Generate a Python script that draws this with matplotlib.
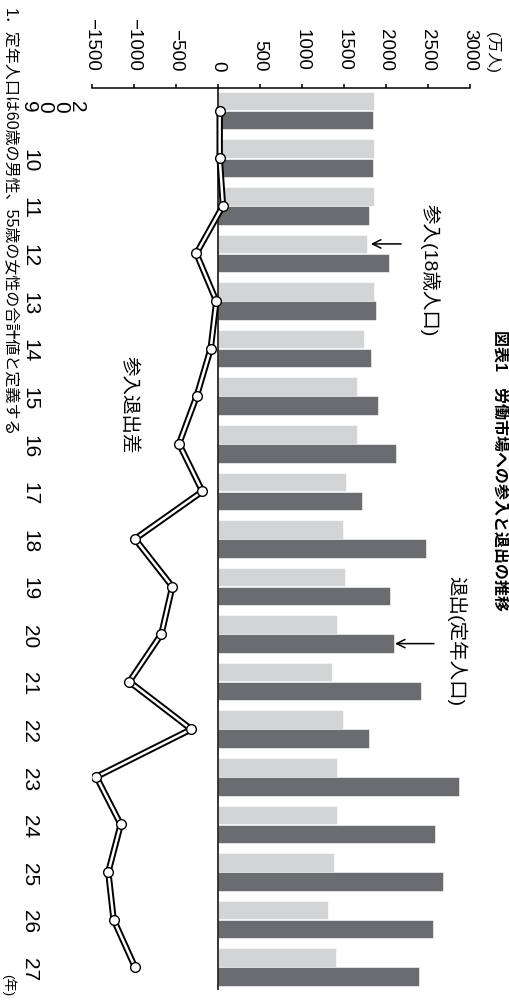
import matplotlib
matplotlib.use("Agg")
import matplotlib.pyplot as plt
from matplotlib.transforms import blended_transform_factory
import numpy as np

plt.rcParams['font.family'] = ['Liberation Sans', 'Noto Sans CJK JP', 'DejaVu Sans']

# ---- data (万人) ----
years = [9, 10, 11, 12, 13, 14, 15, 16, 17, 18, 19, 20, 21, 22, 23, 24, 25, 26, 27]
year_labels = ["2\n0\n0\n9"] + [str(y) for y in years[1:]]
entry = [1861, 1861, 1861, 1774, 1861, 1734, 1651, 1651, 1528, 1484,
         1508, 1421, 1357, 1484, 1421, 1421, 1377, 1313, 1401]   # 参入(18歳人口)
exits = [1841, 1841, 1802, 2032, 1881, 1821, 1905, 2115, 1714, 2472,
         2052, 2095, 2413, 1802, 2869, 2579, 2683, 2556, 2389]   # 退出(定年人口)
value_ticks = [-1500, -1000, -500, 0, 500, 1000, 1500, 2000, 2500, 3000]

LIGHT = "#d3d4d6"
DARK = "#6b6c70"

W, H = 509, 1007
fig = plt.figure(figsize=(W / 100, H / 100), dpi=100)
fig.patch.set_facecolor("white")

# page is laid out turned a quarter clockwise: years run downward, values to the right
ax = fig.add_axes([92 / W, (H - 990) / H, (470 - 92) / W, (990 - 88) / H])

pos = np.arange(len(years))
ax.barh(pos - 0.2, entry, height=0.39, color=LIGHT, edgecolor="white", linewidth=0.4, zorder=2)
ax.barh(pos + 0.2, exits, height=0.39, color=DARK, edgecolor="white", linewidth=0.4, zorder=2)

diff = np.array(entry) - np.array(exits)
ax.plot(diff, pos, color="black", lw=4.6, solid_joinstyle="miter", zorder=4)
ax.plot(diff, pos, color="white", lw=1.8, solid_joinstyle="miter", zorder=5)
ax.plot(diff, pos, "o", ms=7, mfc="white", mec="black", mew=1.0, zorder=6)

ax.axvline(0, color="black", lw=1.1, zorder=3)

ax.set_xlim(-1500, 3000)
ax.set_ylim(18.48, -0.477)

ax.xaxis.tick_top()
ax.set_xticks(value_ticks)
ax.set_xticklabels([str(v).replace("-", "\u2212") for v in value_ticks], rotation=-90)
ax.tick_params(axis="x", direction="out", length=3, width=1.1, pad=9, labelsize=13.5)
ax.set_yticks([])
for s in ["left", "right", "bottom"]:
    ax.spines[s].set_visible(False)
ax.spines["top"].set_linewidth(1.1)

# year labels on the left; the first one is stacked digit over digit
tr = blended_transform_factory(fig.transFigure, ax.transData)
for i, lab in enumerate(year_labels):
    if "\n" in lab:
        ax.text(19 / W, i - 0.07, lab, transform=tr, rotation=-90, ha="left", va="center",
                fontsize=15, linespacing=0.8)
    else:
        ax.text(29.5 / W, i + 0.05, lab, transform=tr, rotation=-90, ha="center", va="center",
                fontsize=15)

# unit labels
fig.text(493 / W, 1 - 52 / H, "(万人)", rotation=-90, ha="center", va="center", fontsize=11)
fig.text(8 / W, 1 - 985 / H, "(年)", rotation=-90, ha="center", va="center", fontsize=9.5)

# series annotations
arrow = dict(arrowstyle="->,head_length=0.6,head_width=0.3", lw=1.1, color="black",
             shrinkA=0, shrinkB=0)
ax.annotate("", xy=(1820, 3 - 0.2), xytext=(2180, 3 - 0.2), arrowprops=arrow, zorder=7)
ax.annotate("", xy=(2107, 11 + 0.2), xytext=(2571, 11 + 0.2), arrowprops=arrow, zorder=7)
ax.text(2524, 3.35, "参入(18歳人口)", rotation=-90, ha="center", va="center", fontsize=14)
ax.text(2845, 11.15, "退出(定年人口)", rotation=-90, ha="center", va="center", fontsize=14)
ax.text(-1060, 6.19, "参入退出差", rotation=-90, ha="center", va="center", fontsize=14)

# title along the right edge and footnote along the left edge
fig.text(500 / W, 1 - 470 / H, "図表1　労働市場への参入と退出の推移", rotation=-90,
         ha="center", va="center", fontsize=11.5, fontweight="bold")
fig.text(9 / W, 1 - 8 / H, "1．定年人口は60歳の男性、55歳の女性の合計値と定義する",
         rotation=-90, ha="center", va="top", fontsize=11.5)

fig.savefig("out.png", dpi=100, facecolor="white")
